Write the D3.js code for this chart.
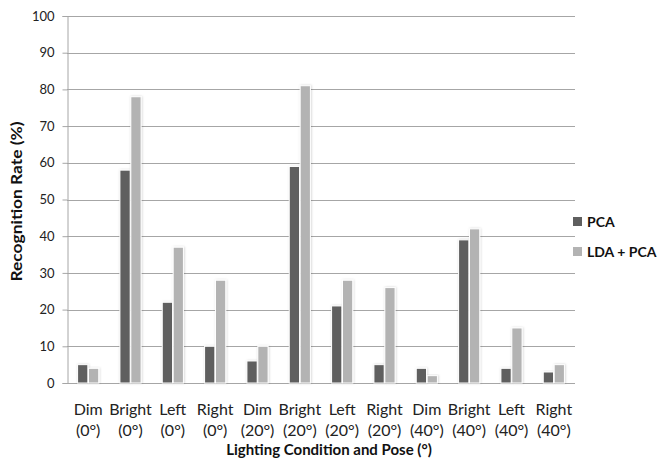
<!DOCTYPE html>
<html>
<head>
<meta charset="utf-8">
<script src="https://cdn.jsdelivr.net/npm/d3@7"></script>
<style>
  html, body { margin: 0; padding: 0; background: #fff; }
  svg { display: block; font-family: Lato, "Open Sans", sans-serif; }
</style>
</head>
<body>
<svg id="chart" width="657" height="458"></svg>
<script>
// Recognition rate per lighting condition and pose
const conditions = ["Dim", "Bright", "Left", "Right", "Dim", "Bright", "Left", "Right", "Dim", "Bright", "Left", "Right"];
const poses = ["(0°)", "(0°)", "(0°)", "(0°)", "(20°)", "(20°)", "(20°)", "(20°)", "(40°)", "(40°)", "(40°)", "(40°)"];
const seriesNames = ["PCA", "LDA + PCA"];
const pcaValues = [5, 58, 22, 10, 6, 59, 21, 5, 4, 39, 4, 3];
const ldaPcaValues = [4, 78, 37, 28, 10, 81, 28, 26, 2, 42, 15, 5];
const yTicks = [0, 10, 20, 30, 40, 50, 60, 70, 80, 90, 100];
const colors = ["#5f5f5f", "#b3b3b3"];

const series = [pcaValues, ldaPcaValues];
const svg = d3.select("#chart");
const margin = { left: 67, right: 82, top: 16, bottom: 75 };
const W = 657, H = 458;
const x0 = margin.left, x1 = W - margin.right;
const yTop = margin.top, yBot = H - margin.bottom;

const x = d3.scaleBand().domain(d3.range(conditions.length)).range([x0, x1]).paddingInner(0.5).paddingOuter(0.25);
const xs = d3.scaleBand().domain(d3.range(series.length)).range([0, x.bandwidth()]).paddingInner(0.06);
const y = d3.scaleLinear().domain([0, 100]).range([yBot, yTop]);

// soft glow around bars
const defs = svg.append("defs");
const f = defs.append("filter").attr("id", "glow").attr("x", "-30%").attr("y", "-10%").attr("width", "160%").attr("height", "120%");
f.append("feDropShadow").attr("dx", 0.6).attr("dy", 0).attr("stdDeviation", 0.9).attr("flood-color", "#000").attr("flood-opacity", 0.18);

// gridlines
svg.append("g").selectAll("line").data(yTicks).join("line")
  .attr("x1", x0).attr("x2", x1)
  .attr("y1", d => Math.round(y(d)) + 0.5).attr("y2", d => Math.round(y(d)) + 0.5)
  .attr("stroke", "#a6a6a6").attr("stroke-width", 1);

// y axis
const yAxis = svg.append("g").attr("transform", `translate(${x0 + 0.5},0)`)
  .call(d3.axisLeft(y).tickValues(yTicks).tickSize(5).tickPadding(8));
yAxis.select(".domain").attr("stroke", "#a6a6a6");
yAxis.selectAll(".tick line").attr("stroke", "#a6a6a6");
yAxis.selectAll("text").attr("font-size", 13).attr("fill", "#222").attr("font-family", "Lato, sans-serif");

// bars
const groups = svg.append("g").selectAll("g").data(conditions.map((c, i) => i)).join("g")
  .attr("transform", i => `translate(${x(i)},0)`);
groups.selectAll("rect").data(i => series.map((s, k) => ({ k, v: s[i] }))).join("rect")
  .attr("x", d => xs(d.k))
  .attr("width", xs.bandwidth())
  .attr("y", d => y(d.v))
  .attr("height", d => yBot - y(d.v))
  .attr("fill", d => colors[d.k])
  .attr("stroke", "#fff").attr("stroke-width", 1)
  .attr("filter", "url(#glow)");

// x category labels
const xl = svg.append("g").selectAll("text").data(conditions.map((c, i) => i)).join("text")
  .attr("x", i => x(i) + x.bandwidth() / 2)
  .attr("text-anchor", "middle")
  .attr("font-size", 16).attr("fill", "#222");
xl.append("tspan").attr("x", i => x(i) + x.bandwidth() / 2).attr("y", 415).text(i => conditions[i]);
xl.append("tspan").attr("x", i => x(i) + x.bandwidth() / 2).attr("y", 436).text(i => poses[i]);

// axis titles
svg.append("text").attr("x", 329).attr("y", 455)
  .attr("text-anchor", "middle").attr("font-size", 15).attr("font-weight", "bold").attr("fill", "#111")
  .text("Lighting Condition and Pose (°)");
svg.append("text").attr("transform", `translate(22,${(yTop + yBot) / 2 + 2}) rotate(-90)`)
  .attr("text-anchor", "middle").attr("font-size", 15).attr("font-weight", "bold").attr("fill", "#111")
  .attr("textLength", 160).attr("lengthAdjust", "spacingAndGlyphs")
  .text("Recognition Rate (%)");

// legend
const lg = svg.append("g").selectAll("g").data(seriesNames).join("g")
  .attr("transform", (d, i) => `translate(573,${217 + i * 30})`);
lg.append("rect").attr("width", 9).attr("height", 9).attr("fill", (d, i) => colors[i]);
lg.append("text").attr("x", 14).attr("y", 9.5).attr("font-size", 14).attr("font-weight", "bold").attr("fill", "#111").text(d => d);
</script>
</body>
</html>
